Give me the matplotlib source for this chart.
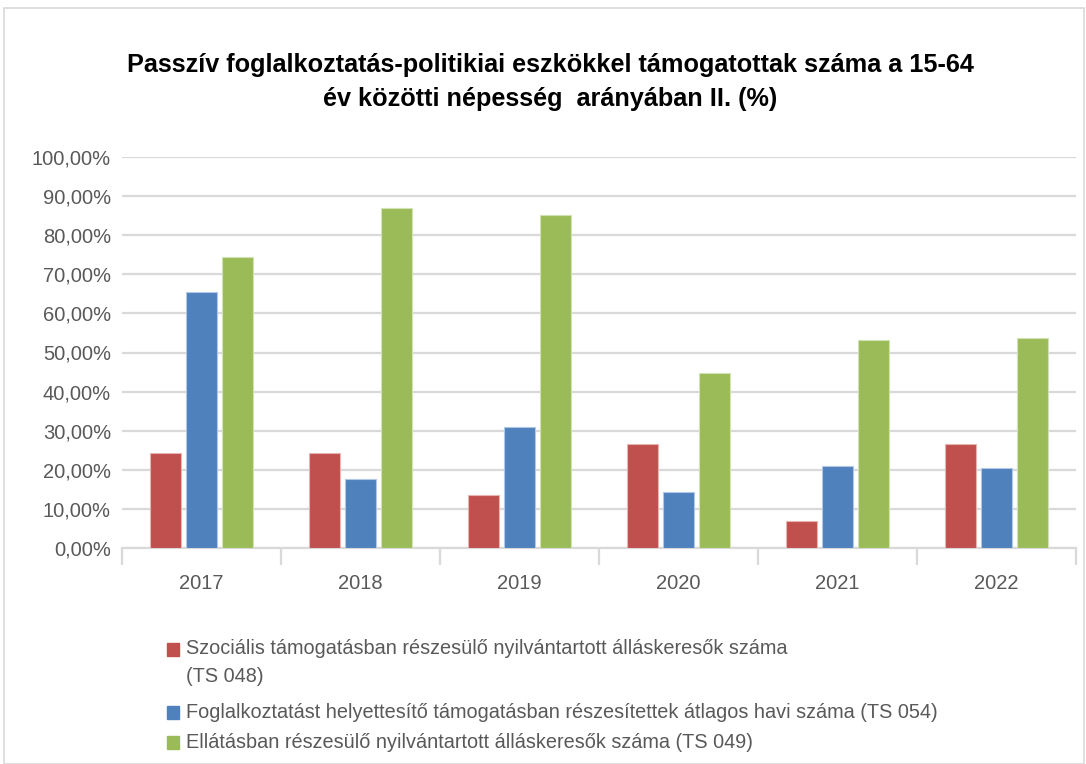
import matplotlib
matplotlib.use("Agg")
import matplotlib.pyplot as plt
import numpy as np
from matplotlib.patches import Rectangle

years = ["2017", "2018", "2019", "2020", "2021", "2022"]
szocialis = [24.2, 24.2, 13.6, 26.5, 6.8, 26.5]
foglalkoztatast = [65.5, 17.6, 30.9, 14.3, 21.0, 20.5]
ellatasban = [74.3, 86.9, 85.2, 44.8, 53.1, 53.8]
series_labels = [
    ["Szociális támogatásban részesülő nyilvántartott álláskeresők száma", "(TS 048)"],
    ["Foglalkoztatást helyettesítő támogatásban részesítettek átlagos havi száma (TS 054)"],
    ["Ellátásban részesülő nyilvántartott álláskeresők száma (TS 049)"],
]
yticks = [0, 10, 20, 30, 40, 50, 60, 70, 80, 90, 100]
title = "Passzív foglalkoztatás-politikiai eszkökkel támogatottak száma a 15-64\név közötti népesség  arányában II. (%)"

colors = ["#C0504D", "#4F81BD", "#9BBB59"]
edges = ["#E8B4B3", "#B0C8E6", "#D2E3B3"]
plt.rcParams["font.family"] = ["Liberation Sans", "DejaVu Sans"]

W, H = 1086, 764
fig = plt.figure(figsize=(W / 100, H / 100), dpi=100)
ax = fig.add_axes([122 / W, 1 - 548 / H, (1076 - 122) / W, (548 - 157) / H])

x = np.arange(len(years))
bw = 0.195
gap = 0.029
for i, (vals, c, ec) in enumerate(zip([szocialis, foglalkoztatast, ellatasban], colors, edges)):
    ax.bar(x + (i - 1) * (bw + gap), vals, bw, color=c, edgecolor=ec, linewidth=0.8, zorder=3)

ax.set_xlim(-0.5, len(years) - 0.5)
ax.set_ylim(0, 100)
ax.set_yticks(yticks)
ax.set_yticklabels([f"{v:.2f}%".replace(".", ",") for v in yticks], fontsize=14.5, color="#595959")
ax.grid(axis="y", color="#d9d9d9", linewidth=1.6, zorder=0)
ax.set_axisbelow(True)
ax.set_xticks(x)
ax.set_xticklabels(years, fontsize=14.5, color="#595959")
ax.tick_params(axis="y", length=0, pad=8)
ax.tick_params(axis="x", length=0, pad=19)
ax.set_xticks(np.arange(-0.5, len(years), 1.0), minor=True)
ax.tick_params(axis="x", which="minor", length=12, width=1.6, color="#d9d9d9")
for s in ["top", "right", "left"]:
    ax.spines[s].set_visible(False)
ax.spines["bottom"].set_color("#d9d9d9")
ax.spines["bottom"].set_linewidth(1.6)

fig.text(550 / W, 1 - 82 / H, title, ha="center", va="center", fontsize=18.2,
         fontweight="bold", color="black", linespacing=1.5)

# legend
sq_tops = [643, 706, 736]
text_rows = [[648, 676], [712], [743]]
for i in range(3):
    fig.patches.append(Rectangle((167 / W, 1 - (sq_tops[i] + 13) / H), 12 / W, 13 / H,
                                 transform=fig.transFigure, color=colors[i]))
    for line, ypix in zip(series_labels[i], text_rows[i]):
        fig.text(186 / W, 1 - ypix / H, line, ha="left", va="center",
                 fontsize=14.3, color="#595959")

# outer border
fig.patches.append(Rectangle((4 / W, 0), (W - 6) / W, 1 - 8 / H, transform=fig.transFigure,
                             fill=False, edgecolor="#d9d9d9", linewidth=1.2))

fig.savefig("out.png", dpi=100)
